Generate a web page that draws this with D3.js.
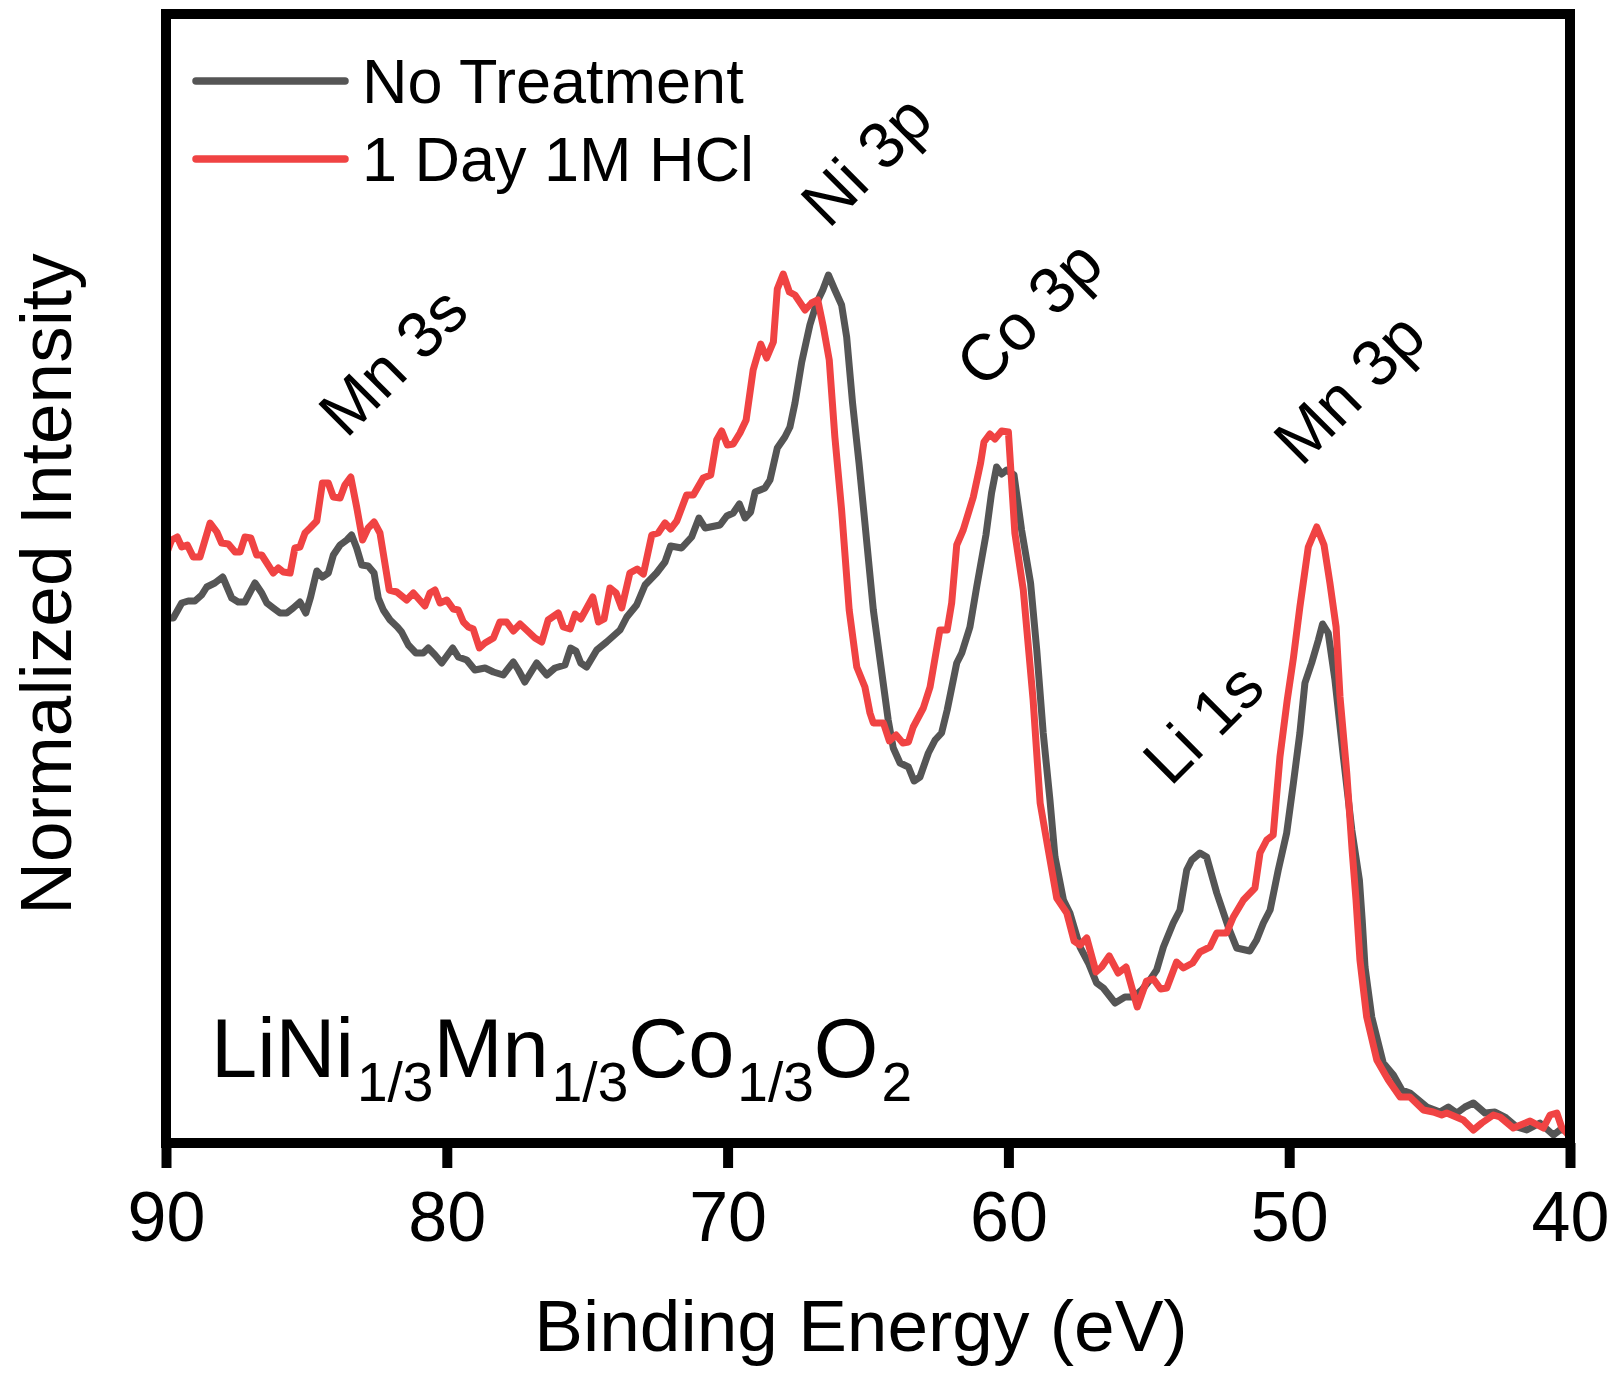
<!DOCTYPE html>
<html>
<head>
<meta charset="utf-8">
<script src="https://cdn.jsdelivr.net/npm/d3@7"></script>
<style>
  body { margin: 0; background: #fff; }
  text { font-family: "Liberation Sans", Arial, sans-serif; fill: #000; }
</style>
</head>
<body>
<svg id="chart" width="1614" height="1375"></svg>
<script>
// binding energy (eV) and normalized intensity
var energyNoTreatment = [90.00, 89.74, 89.44, 89.21, 88.97, 88.73, 88.55, 88.26, 87.98, 87.66, 87.43, 87.19, 86.83, 86.59, 86.41, 86.18, 85.94, 85.70, 85.47, 85.23, 85.02, 84.85, 84.63, 84.43, 84.22, 84.04, 83.80, 83.56, 83.39, 83.21, 83.03, 82.80, 82.59, 82.44, 82.26, 82.02, 81.76, 81.61, 81.37, 81.10, 80.84, 80.66, 80.42, 80.18, 79.79, 79.59, 79.29, 79.00, 78.64, 78.34, 77.99, 77.63, 77.45, 77.22, 76.80, 76.44, 76.15, 75.79, 75.59, 75.40, 75.23, 75.02, 74.66, 74.31, 73.83, 73.59, 73.24, 72.94, 72.53, 72.23, 72.03, 71.64, 71.28, 71.02, 70.80, 70.27, 70.03, 69.80, 69.58, 69.38, 69.18, 69.02, 68.67, 68.49, 68.23, 67.96, 67.78, 67.60, 67.36, 67.07, 66.83, 66.61, 66.41, 66.18, 65.94, 65.76, 65.55, 65.32, 65.11, 64.81, 64.57, 64.28, 64.10, 63.86, 63.56, 63.36, 63.15, 62.85, 62.61, 62.38, 62.18, 61.84, 61.66, 61.37, 61.13, 60.80, 60.60, 60.42, 60.24, 60.06, 59.80, 59.53, 59.21, 58.99, 58.76, 58.52, 58.34, 58.04, 57.81, 57.45, 57.15, 56.86, 56.62, 56.20, 55.85, 55.55, 55.25, 54.96, 54.72, 54.48, 54.13, 53.89, 53.65, 53.47, 53.18, 52.94, 52.58, 52.17, 51.87, 51.40, 51.16, 50.92, 50.68, 50.39, 50.09, 49.85, 49.62, 49.44, 49.20, 48.96, 48.81, 48.61, 48.37, 48.07, 47.77, 47.50, 47.40, 47.30, 47.06, 46.65, 46.29, 45.99, 45.70, 45.10, 44.63, 44.33, 44.03, 43.74, 43.44, 43.03, 42.67, 42.32, 41.90, 41.54, 41.07, 40.59, 40.36, 40.12, 40.00];
var intensityNoTreatment = [0.525, 0.525, 0.540, 0.542, 0.542, 0.548, 0.556, 0.560, 0.566, 0.545, 0.541, 0.541, 0.560, 0.550, 0.540, 0.535, 0.530, 0.530, 0.535, 0.541, 0.530, 0.546, 0.572, 0.566, 0.570, 0.588, 0.598, 0.603, 0.608, 0.595, 0.578, 0.577, 0.570, 0.545, 0.533, 0.523, 0.516, 0.511, 0.498, 0.490, 0.490, 0.495, 0.488, 0.480, 0.495, 0.486, 0.483, 0.473, 0.475, 0.471, 0.468, 0.481, 0.473, 0.461, 0.480, 0.468, 0.475, 0.478, 0.495, 0.492, 0.480, 0.476, 0.493, 0.501, 0.513, 0.526, 0.538, 0.558, 0.570, 0.581, 0.597, 0.595, 0.606, 0.625, 0.615, 0.618, 0.627, 0.630, 0.639, 0.625, 0.631, 0.651, 0.655, 0.663, 0.695, 0.706, 0.716, 0.740, 0.781, 0.818, 0.840, 0.853, 0.868, 0.853, 0.838, 0.806, 0.740, 0.680, 0.620, 0.533, 0.483, 0.423, 0.395, 0.380, 0.376, 0.362, 0.366, 0.390, 0.403, 0.410, 0.433, 0.480, 0.490, 0.516, 0.556, 0.608, 0.650, 0.676, 0.669, 0.673, 0.668, 0.613, 0.560, 0.493, 0.410, 0.343, 0.286, 0.243, 0.230, 0.196, 0.180, 0.160, 0.155, 0.140, 0.146, 0.146, 0.153, 0.163, 0.173, 0.196, 0.220, 0.233, 0.273, 0.283, 0.290, 0.286, 0.250, 0.216, 0.195, 0.192, 0.203, 0.220, 0.233, 0.273, 0.310, 0.360, 0.410, 0.460, 0.480, 0.503, 0.519, 0.510, 0.463, 0.386, 0.313, 0.263, 0.223, 0.176, 0.126, 0.080, 0.068, 0.053, 0.050, 0.036, 0.031, 0.036, 0.030, 0.036, 0.040, 0.030, 0.031, 0.026, 0.016, 0.013, 0.020, 0.008, 0.013, 0.013, 0.015];

var energyHCl = [90.00, 89.80, 89.60, 89.44, 89.24, 89.03, 88.79, 88.43, 88.19, 88.02, 87.78, 87.54, 87.36, 87.19, 86.98, 86.77, 86.59, 86.18, 86.00, 85.82, 85.58, 85.41, 85.23, 85.05, 84.87, 84.63, 84.43, 84.22, 84.04, 83.80, 83.63, 83.42, 83.21, 83.00, 82.80, 82.59, 82.38, 82.05, 81.78, 81.43, 81.19, 80.78, 80.60, 80.42, 80.24, 80.00, 79.77, 79.59, 79.41, 79.23, 79.06, 78.84, 78.64, 78.34, 78.11, 77.87, 77.63, 77.39, 77.16, 76.86, 76.62, 76.39, 76.03, 75.85, 75.61, 75.43, 75.23, 74.80, 74.60, 74.40, 74.19, 73.97, 73.77, 73.48, 73.22, 73.00, 72.70, 72.47, 72.23, 72.03, 71.81, 71.46, 71.22, 70.87, 70.60, 70.39, 70.21, 70.01, 69.80, 69.56, 69.34, 69.09, 68.82, 68.61, 68.37, 68.23, 68.02, 67.80, 67.60, 67.24, 67.01, 66.79, 66.59, 66.38, 66.18, 65.94, 65.67, 65.40, 65.11, 64.93, 64.81, 64.45, 64.24, 64.00, 63.76, 63.56, 63.39, 63.03, 62.79, 62.44, 62.18, 62.02, 61.84, 61.61, 61.25, 60.99, 60.87, 60.66, 60.48, 60.24, 60.00, 59.77, 59.47, 59.12, 58.87, 58.58, 58.28, 57.92, 57.66, 57.45, 57.21, 56.88, 56.68, 56.41, 56.09, 55.81, 55.41, 55.08, 54.84, 54.58, 54.36, 54.01, 53.77, 53.44, 53.18, 52.82, 52.58, 52.23, 51.99, 51.63, 51.22, 51.04, 50.80, 50.57, 50.33, 50.07, 49.85, 49.62, 49.32, 49.02, 48.76, 48.55, 48.33, 48.19, 47.95, 47.76, 47.62, 47.48, 47.24, 46.88, 46.47, 46.05, 45.70, 45.22, 44.87, 44.57, 44.39, 43.80, 43.44, 43.14, 42.73, 42.49, 42.02, 41.42, 40.95, 40.71, 40.47, 40.30, 40.06, 40.00];
var intensityHCl = [0.588, 0.603, 0.606, 0.596, 0.598, 0.586, 0.586, 0.620, 0.611, 0.600, 0.599, 0.591, 0.591, 0.606, 0.605, 0.588, 0.588, 0.570, 0.575, 0.571, 0.570, 0.595, 0.596, 0.610, 0.615, 0.622, 0.660, 0.660, 0.646, 0.645, 0.658, 0.666, 0.636, 0.603, 0.615, 0.621, 0.610, 0.553, 0.551, 0.543, 0.550, 0.537, 0.550, 0.553, 0.540, 0.543, 0.534, 0.533, 0.521, 0.516, 0.514, 0.495, 0.500, 0.505, 0.521, 0.521, 0.512, 0.519, 0.513, 0.505, 0.501, 0.523, 0.530, 0.516, 0.514, 0.529, 0.524, 0.546, 0.521, 0.524, 0.555, 0.550, 0.535, 0.570, 0.574, 0.569, 0.608, 0.610, 0.620, 0.614, 0.622, 0.648, 0.648, 0.665, 0.668, 0.703, 0.712, 0.698, 0.699, 0.710, 0.723, 0.773, 0.799, 0.785, 0.801, 0.854, 0.869, 0.851, 0.848, 0.833, 0.840, 0.843, 0.816, 0.783, 0.706, 0.633, 0.533, 0.476, 0.456, 0.430, 0.420, 0.420, 0.402, 0.408, 0.400, 0.401, 0.416, 0.435, 0.456, 0.513, 0.513, 0.540, 0.598, 0.613, 0.646, 0.680, 0.701, 0.709, 0.704, 0.712, 0.711, 0.610, 0.553, 0.443, 0.340, 0.293, 0.245, 0.230, 0.202, 0.198, 0.205, 0.171, 0.176, 0.187, 0.170, 0.176, 0.136, 0.162, 0.164, 0.154, 0.155, 0.181, 0.175, 0.180, 0.191, 0.196, 0.210, 0.210, 0.226, 0.243, 0.255, 0.290, 0.303, 0.308, 0.386, 0.443, 0.485, 0.536, 0.596, 0.616, 0.598, 0.560, 0.516, 0.446, 0.370, 0.293, 0.243, 0.183, 0.126, 0.083, 0.063, 0.046, 0.046, 0.033, 0.031, 0.028, 0.030, 0.023, 0.013, 0.020, 0.028, 0.026, 0.015, 0.022, 0.015, 0.028, 0.030, 0.016, 0.008, 0.006];

var seriesNames = ["No Treatment", "1 Day 1M HCl"];
var seriesColors = ["#555555", "#f04343"];
var xTicks = [90, 80, 70, 60, 50, 40];

// peak labels: name and the energy / intensity they sit at
var peakNames = ["Mn 3s", "Ni 3p", "Co 3p", "Li 1s", "Mn 3p"];
var peakEnergy = [81.35, 64.5, 58.7, 52.5, 47.3];
var peakIntensity = [0.766, 0.967, 0.814, 0.404, 0.739];

function drawChart() {
    var width = 1614, height = 1375;
    var plotLeft = 166, plotRight = 1570, plotTop = 14, plotBottom = 1143;

    var svg = d3.select("#chart");
    svg.append("rect").attr("width", width).attr("height", height).attr("fill", "#fff");

    var x = d3.scaleLinear().domain([90, 40]).range([plotLeft, plotRight]);
    var y = d3.scaleLinear().domain([0, 1.129]).range([plotBottom, plotTop]);

    var line = d3.line()
        .x(d => x(d[0]))
        .y(d => y(d[1]));

    var series = [
        d3.zip(energyNoTreatment, intensityNoTreatment),
        d3.zip(energyHCl, intensityHCl)
    ];

    series.forEach(function (s, i) {
        svg.append("path")
            .datum(s)
            .attr("d", line)
            .attr("fill", "none")
            .attr("stroke", seriesColors[i])
            .attr("stroke-width", 7)
            .attr("stroke-linejoin", "round")
            .attr("stroke-linecap", "round");
    });

    // frame
    svg.append("rect")
        .attr("x", plotLeft).attr("y", plotTop)
        .attr("width", plotRight - plotLeft).attr("height", plotBottom - plotTop)
        .attr("fill", "none")
        .attr("stroke", "#000")
        .attr("stroke-width", 10);

    // x axis ticks
    var xAxis = d3.axisBottom(x)
        .tickValues(xTicks)
        .tickSizeInner(25)
        .tickSizeOuter(0)
        .tickPadding(0)
        .tickFormat(d3.format("d"));

    var gx = svg.append("g")
        .attr("transform", "translate(0," + plotBottom + ")")
        .call(xAxis);
    gx.select(".domain").remove();
    gx.selectAll(".tick line").attr("stroke", "#000").attr("stroke-width", 10);
    gx.selectAll(".tick text")
        .attr("y", 98)
        .attr("dy", null)
        .attr("font-size", 70)
        .attr("font-family", "'Liberation Sans', Arial, sans-serif")
        .attr("fill", "#000");

    // axis titles
    svg.append("text")
        .attr("x", 861).attr("y", 1351)
        .attr("text-anchor", "middle")
        .attr("font-size", 73)
        .text("Binding Energy (eV)");

    svg.append("text")
        .attr("transform", "translate(71,584) rotate(-90)")
        .attr("text-anchor", "middle")
        .attr("font-size", 73)
        .text("Normalized Intensity");

    // legend
    var legend = svg.append("g");
    seriesNames.forEach(function (name, i) {
        var ly = 81 + i * 78;
        legend.append("line")
            .attr("x1", 196).attr("x2", 345)
            .attr("y1", ly).attr("y2", ly)
            .attr("stroke", seriesColors[i])
            .attr("stroke-width", 7.5)
            .attr("stroke-linecap", "round");
        legend.append("text")
            .attr("x", 362).attr("y", ly + 22)
            .attr("font-size", 63)
            .text(name);
    });

    // peak labels, rotated 45 degrees
    peakNames.forEach(function (name, i) {
        svg.append("text")
            .attr("transform", "translate(" + x(peakEnergy[i]) + "," + y(peakIntensity[i]) + ") rotate(-45)")
            .attr("text-anchor", "middle")
            .attr("font-size", 65)
            .text(name);
    });

    // compound label
    var formula = svg.append("text")
        .attr("x", 211).attr("y", 1077)
        .attr("font-size", 83);
    var parts = [["LiNi", false], ["1/3", true], ["Mn", false], ["1/3", true], ["Co", false], ["1/3", true], ["O", false], ["2", true]];
    var shifted = false;
    parts.forEach(function (p) {
        var t = formula.append("tspan").text(p[0]);
        if (p[1]) {
            t.attr("font-size", 55).attr("dy", 24).attr("dx", 3);
            shifted = true;
        } else if (shifted) {
            t.attr("dy", -24);
            shifted = false;
        }
    });
}

drawChart();
</script>
</body>
</html>
